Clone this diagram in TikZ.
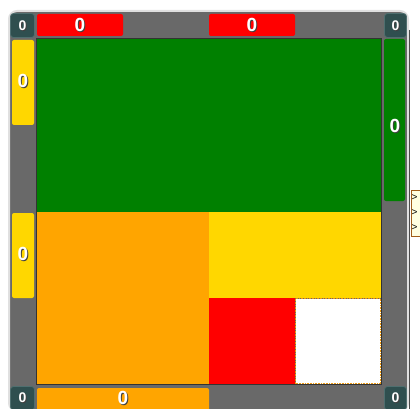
\documentclass[tikz,border=0pt]{standalone}
\usepackage{fontspec}
\setmainfont{Liberation Sans}
\begin{document}
\begin{tikzpicture}[x=1pt,y=-1pt,
  bar/.style={draw=none,rounded corners=2pt},
  badge/.style={fill=badgec,draw=badgeb,line width=0.8pt,rounded corners=3pt},
  zero/.style={text=white,font=\bfseries\fontsize{#1}{#1}\selectfont,inner sep=0pt},
  shad/.style={text=black!75,font=\bfseries\fontsize{#1}{#1}\selectfont,inner sep=0pt},
  cell/.style={draw=none}]
\definecolor{dimg}{HTML}{696969}
\definecolor{badgec}{HTML}{2F4F4F}
\definecolor{badgeb}{HTML}{4F6F6F}
\definecolor{goldc}{HTML}{FFD700}
\definecolor{orangec}{HTML}{FFA500}
\definecolor{greenc}{HTML}{008000}
\definecolor{tipc}{HTML}{FFFFE1}
\useasboundingbox (0,0) rectangle (420,409);
\fill[white] (0,0) rectangle (420,409);
% outer frame
\draw[fill=dimg,draw=black!12,line width=2pt,rounded corners=8pt] (9,11) rectangle (408,411);
\draw[black!70,line width=0.8pt] (409.5,30) -- (409.5,409);
% tooltip
\draw[fill=tipc,draw=black!45!orange!60!brown] (411,190) rectangle (421,236);
\foreach \yy/\nm in {198/ta,213/tb,228/tc}
  \node[inner sep=0pt,font=\fontsize{10}{10}\selectfont,anchor=west] (\nm) at (411.5,\yy) {>};
% main cells
\fill[greenc] (37,39) rectangle (381,212);
\fill[orangec] (37,212) rectangle (209,384);
\fill[goldc] (209,212) rectangle (381,298);
\fill[red] (209,298) rectangle (295,384);
\draw[fill=white,draw=orangec!70!brown,densely dotted,line width=0.6pt] (295.5,298.5) rectangle (380.5,383.5);
\draw[black!80,line width=1.2pt] (36.5,38.5) rectangle (381.5,384.5);
% top bars
\fill[red,bar] (37,14) rectangle (123,36); \coordinate (tb1) at (80,25);
\fill[red,bar] (209,14) rectangle (295,36); \coordinate (tb2) at (252,25);
% left bars
\fill[goldc,bar] (12,40) rectangle (34,125); \coordinate (lb1) at (23,81);
\fill[goldc,bar] (12,213) rectangle (34,298); \coordinate (lb2) at (23,254);
% right bar
\fill[greenc,bar] (384,39) rectangle (405,201); \coordinate (rb1) at (395,126);
% bottom bar
\fill[orangec,bar] (37,388) rectangle (209,412); \coordinate (bb1) at (123,398);
% badges
\draw[badge] (10.5,13.5) rectangle (34.5,37.5); \coordinate (c1) at (22.5,25.5);
\draw[badge] (384.5,13.5) rectangle (406.5,37.5); \coordinate (c2) at (395.5,25.5);
\draw[badge] (10.5,386.5) rectangle (34.5,410); \coordinate (c3) at (22.5,397.5);
\draw[badge] (384.5,386.5) rectangle (406.5,410); \coordinate (c4) at (395.5,397.5);
% labels
\foreach \c in {tb1,tb2,lb1,lb2,rb1,bb1}{
  \node[shad=19] at ([shift={(1,1)}]\c) {0};
  \node[zero=19] (l\c) at (\c) {0};}
\foreach \c in {c1,c2,c3,c4}{
  \node[shad=14] at ([shift={(1,1)}]\c) {0};
  \node[zero=14] (l\c) at (\c) {0};}
\end{tikzpicture}
\end{document}
